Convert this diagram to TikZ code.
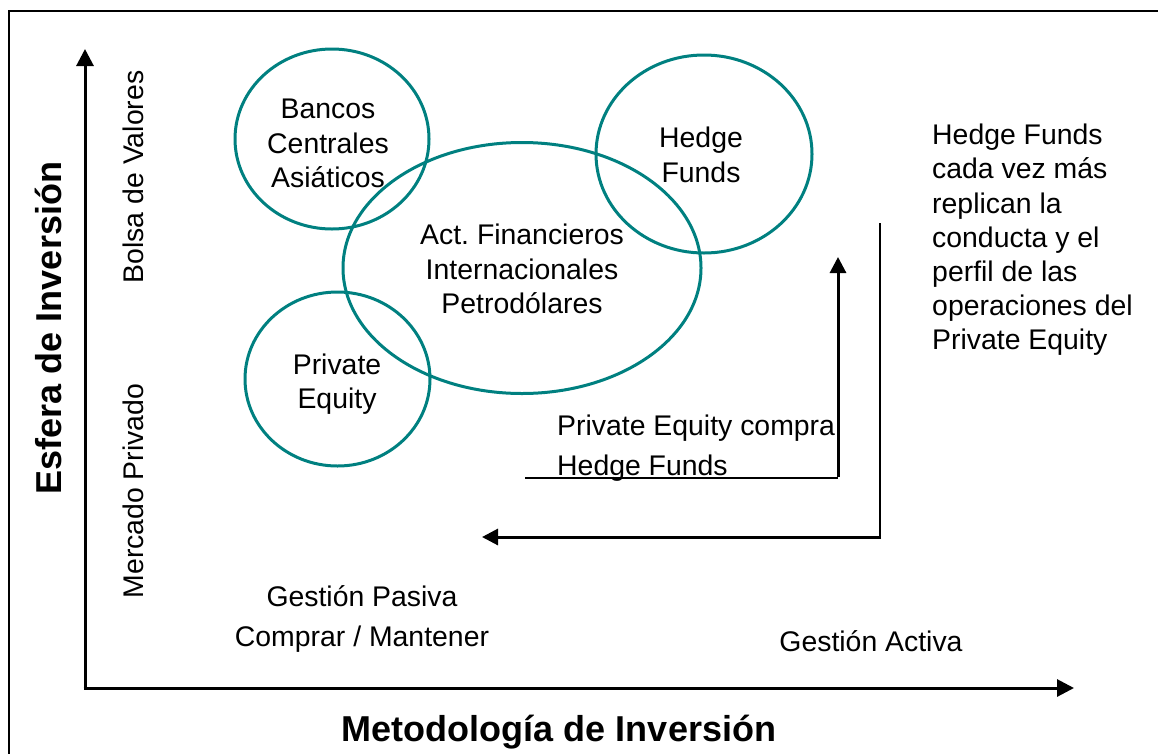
\documentclass[tikz,border=0pt]{standalone}
\usepackage{fontspec}
\setmainfont{Liberation Sans}
\usetikzlibrary{arrows.meta,shapes.geometric}
\definecolor{tealc}{RGB}{0,128,128}
\frenchspacing
\begin{document}
\begin{tikzpicture}[x=1pt,y=-1pt,
  circ/.style={ellipse, draw=tealc, line width=3pt, inner sep=0pt},
  ctext/.style={inner sep=0pt, align=center, font=\fontsize{28.4}{34.5}\selectfont},
  lbl/.style={inner sep=0pt, font=\fontsize{28.4}{34.2}\selectfont},
  lblwide/.style={inner sep=0pt, font=\fontsize{28.4}{40}\selectfont},
  axisarrow/.style={line width=3pt, -{Triangle[length=17pt,width=17pt]}},
  arr/.style={line width=3pt, -{Triangle[length=16pt,width=16pt]}},
  thinline/.style={line width=2pt},
  titletext/.style={inner sep=0pt, font=\fontsize{36}{42}\selectfont\bfseries}]
\useasboundingbox (0,0) rectangle (1158,753);
\draw[line width=2pt] (9,11) rectangle (1180,780);

% axes
\coordinate (O) at (85,688);
\coordinate (ytip) at (85,49);
\coordinate (xtip) at (1074,688);
\draw[axisarrow] ([yshift=-1.5pt]O) -- (ytip);
\draw[axisarrow] ([xshift=-1.5pt]O) -- (xtip);

% ellipses
\node[circ, minimum width=194pt, minimum height=180pt] (bancos) at (332,139) {};
\node[ctext] (bancosT) at (328,143.5) {Bancos\\Centrales\\Asiáticos};
\node[circ, minimum width=216pt, minimum height=198pt] (hedge) at (704,154) {};
\node[ctext] (hedgeT) at (701,155) {Hedge\\Funds};
\node[circ, minimum width=358pt, minimum height=251pt] (act) at (522,268) {};
\node[ctext] (actT) at (522,269) {Act.\ Financieros\\Internacionales\\Petrodólares};
\node[circ, minimum width=185pt, minimum height=174pt] (pe) at (337.5,379) {};
\node[ctext] (peT) at (337,384) {Private\\Equity};

% bracket: Private Equity compra Hedge Funds
\coordinate (b1) at (525,478);
\coordinate (b2) at (838,478);
\coordinate (b3) at (838,257);
\draw[thinline] (b1) -- (b2);
\draw[arr] ([yshift=1pt]b2) -- (b3);
\node[lblwide, align=left, anchor=west] (pec) at (557,448) {Private Equity compra\\Hedge Funds};

% Hedge Funds replicate line
\coordinate (h1) at (880,223);
\coordinate (h2) at (880,537);
\coordinate (h3) at (482,537);
\draw[thinline] (h1) -- (h2);
\draw[arr] ([xshift=1pt]h2) -- (h3);
\node[lbl, align=left, anchor=west] (hfn) at (932,240) {Hedge Funds\\cada vez más\\replican la\\conducta y el\\perfil de las\\operaciones del\\Private Equity};

% axis labels
\node[lblwide, align=center] (gp) at (362,619) {Gestión Pasiva\\Comprar / Mantener};
\node[lbl, anchor=base] (ga) at (871,651) {Gestión Activa};
\node[lbl, rotate=90] (bv) at (133,177) {Bolsa de Valores};
\node[lbl, rotate=90] (mp) at (133,491) {Mercado Privado};
\node[titletext, rotate=90] (ei) at (48,328) {Esfera de Inversión};
\node[titletext, anchor=base] (mi) at (559,741) {Metodología de Inversión};
\end{tikzpicture}
\end{document}
